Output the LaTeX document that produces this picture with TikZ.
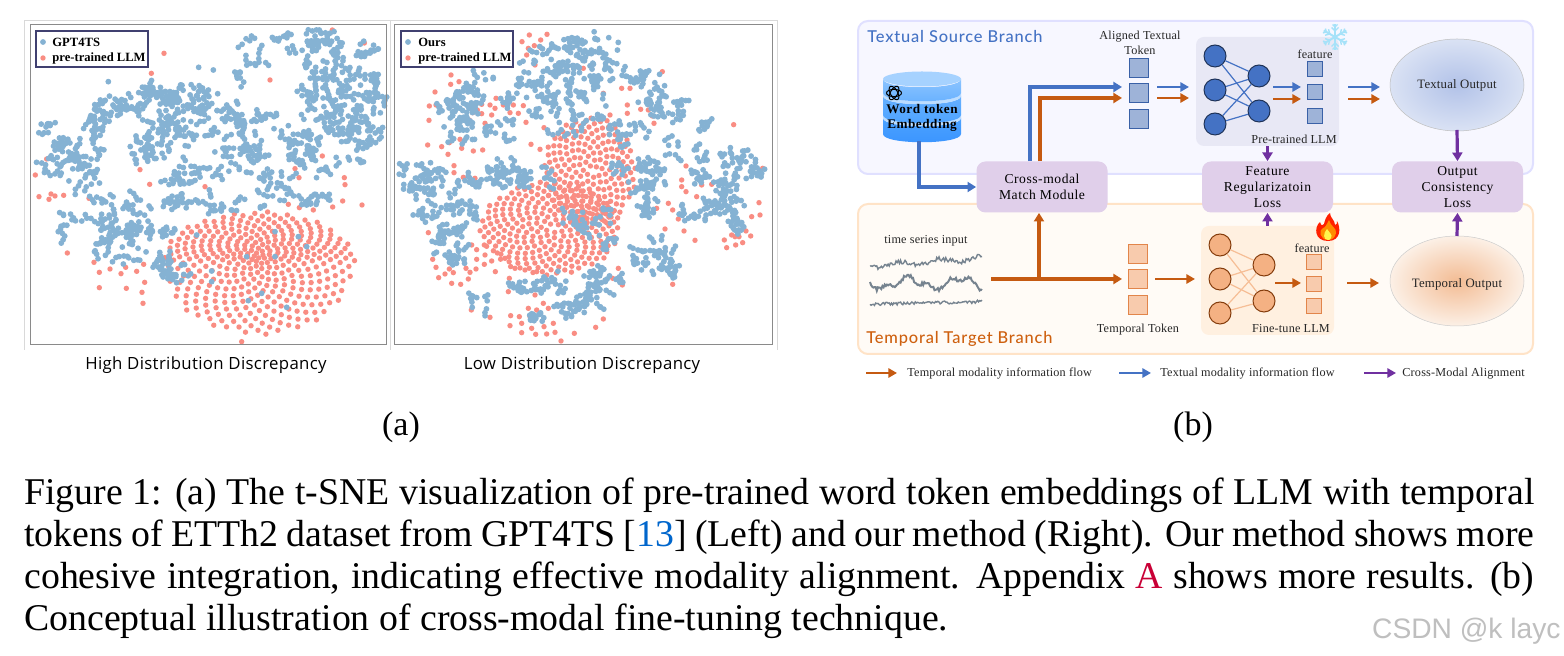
\documentclass[tikz,border=0pt]{standalone}
\usepackage{fontspec}
\usetikzlibrary{arrows.meta,calc}
\setmainfont{Liberation Serif}
\newfontfamily\dgf{Liberation Serif}[LetterSpace=4]
\newfontfamily\lbf{Liberation Serif}[LetterSpace=1.5]
\newfontfamily\ttlf{Lato Medium}[LetterSpace=5]
\newfontfamily\subf{Open Sans}[LetterSpace=2]
\newfontfamily\wmf{Liberation Sans}
\definecolor{bluedot}{HTML}{85B2D3}
\definecolor{reddot}{HTML}{F98D83}
\definecolor{blueflow}{HTML}{4472C4}
\definecolor{orangeflow}{HTML}{C55A11}
\definecolor{purpleflow}{HTML}{7030A0}
\definecolor{lossfill}{HTML}{E0CFEA}
\definecolor{frameg}{HTML}{8A8A8A}
\definecolor{tsgray}{HTML}{76838F}
\newcommand\dotb[2]{\fill[bluedot] (#1,#2) circle[radius=2.9];}
\newcommand\dotr[2]{\fill[reddot] (#1,#2) circle[radius=2.7];}
% ox oy list of cx/cy/rx/ry/n, zoom coordinates (3x)
\newcommand\chains[3]{%
 \foreach \cx/\cy/\rx/\ry/\n in {#3}{%
  \pgfmathtruncatemacro\nn{\n*3}%
  \foreach \i in {1,...,\nn}{%
   \pgfmathsetmacro\ang{rnd*360}\pgfmathsetmacro\rad{sqrt(rnd)}%
   \pgfmathsetmacro\dir{rnd*360}\pgfmathsetmacro\len{int(1+rnd*2.4)}%
   \pgfmathsetmacro\sx{#1+(\cx+1.15*\rx*\rad*cos(\ang))/3}%
   \pgfmathsetmacro\sy{#2+(\cy+1.15*\ry*\rad*sin(\ang))/3}%
   \foreach \j in {1,...,\len}{%
    \pgfmathsetmacro\qx{\sx+(\j-1)*4*cos(\dir)+rnd*1.5}%
    \pgfmathsetmacro\qy{\sy+(\j-1)*4*sin(\dir)+rnd*1.5}%
    \dotb{\qx}{\qy}%
   }%
  }%
 }}
\newcommand\redpts[3]{\foreach \ux/\uy in {#3}{\pgfmathsetmacro\qx{#1+\ux/3}\pgfmathsetmacro\qy{#2+\uy/3}\dotr{\qx}{\qy}}}
\newcommand\bluepts[3]{\foreach \ux/\uy in {#3}{\pgfmathsetmacro\qx{#1+\ux/3}\pgfmathsetmacro\qy{#2+\uy/3}\dotb{\qx}{\qy}}}
% ox oy cx cy rx ryup rydown n power
\newcommand\sunflower[9]{\foreach \k in {1,...,#8}{%
  \pgfmathsetmacro\ang{mod(\k*13.7508,36)*10}\pgfmathsetmacro\rad{pow(\k/#8,#9)}%
  \pgfmathsetmacro\sa{sin(\ang)}\pgfmathsetmacro\vy{\sa>0?#7:#6}%
  \pgfmathsetmacro\qx{#1+(#3+#5*\rad*cos(\ang))/3}%
  \pgfmathsetmacro\qy{#2+(#4+\vy*\rad*\sa)/3}%
  \dotr{\qx}{\qy}}}
\newcommand\cylbody[4]{% ytop ybot colors
  \shade[top color=#3,bottom color=#4] (883,#1) -- (883,#2) .. controls (883,#2+11) and (961,#2+11) .. (961,#2) -- (961,#1) .. controls (961,#1+11) and (883,#1+11) .. (883,#1) -- cycle;}
\tikzset{
  x=0.5pt,y=-0.5pt,
  lbl/.style={font=\lbf\fontsize{6.1}{7.4}\selectfont,inner sep=0,align=center,text=black!85,yshift=-0.5pt},
  lossbox/.style={rectangle,rounded corners=4.5pt,fill=lossfill,inner sep=0,align=center,minimum height=25.5pt,minimum width=65.5pt,font=\dgf\fontsize{6.8}{8}\selectfont},
  panel/.style={rectangle,rounded corners=5pt,line width=1pt,inner sep=0},
  flow/.style={line width=1.6pt,-{Triangle[length=4.3pt,width=5pt]}},
  thinflow/.style={line width=1.25pt,-{Triangle[length=4.3pt,width=4.6pt]}},
  bflow/.style={flow,draw=blueflow},
  oflow/.style={flow,draw=orangeflow},
  pflow/.style={flow,draw=purpleflow},
  bthin/.style={thinflow,draw=blueflow},
  othin/.style={thinflow,draw=orangeflow},
  btok/.style={rectangle,draw=blueflow!85!black,fill=blueflow!50!white!90!gray,line width=.5pt,minimum size=9.6pt,inner sep=0},
  otok/.style={rectangle,draw={rgb,255:red,226;green,133;blue,74},fill={rgb,255:red,248;green,203;blue,173},line width=.6pt,minimum size=9.6pt,inner sep=0},
  bfeat/.style={btok,minimum size=7.6pt},
  ofeat/.style={otok,minimum size=7.6pt},
  bneur/.style={circle,draw=blueflow!45!black,fill=blueflow,line width=.5pt,minimum size=11pt,inner sep=0},
  oneur/.style={circle,draw={rgb,255:red,132;green,60;blue,12},fill={rgb,255:red,244;green,177;blue,131},line width=.5pt,minimum size=11pt,inner sep=0},
  bedge/.style={draw=blueflow,line width=.6pt},
  oedge/.style={draw={rgb,255:red,246;green,190;blue,150},line width=.6pt},
  capline/.style={anchor=west,inner sep=0,font=\fontsize{18.9}{21}\selectfont},
  legendt/.style={anchor=west,inner sep=0,font=\bfseries\fontsize{6.3}{7}\selectfont},
  subt/.style={inner sep=0,font=\subf\fontsize{8.4}{10}\selectfont},
  sublab/.style={inner sep=0,font=\fontsize{17}{20}\selectfont},
}
\begin{document}
\begin{tikzpicture}
\useasboundingbox (0,0) rectangle (1564,656);
\fill[white] (0,0) rectangle (1564,656);
\pgfmathsetseed{4217}
%% --- panel (a)
\draw[black!15,line width=.4pt] (24,350) -- (24,20) -- (777,20) -- (777,350);
\draw[black!15,line width=.4pt] (390,20) -- (390,350);
% left scatter
\sunflower{20}{15}{715}{735}{290}{145}{225}{380}{0.6}
\redpts{20}{15}{937/45,1033/84,432/115,394/175,750/195,120/390,80/432,46/480,57/545,87/553,93/537,105/543,131/541,207/550,360/464,389/508,555/515,825/461,837/488,907/423,973/488,975/509,142/714,222/742,238/772,270/762,303/776,317/757,350/769,371/748,374/802,238/818,319/820,366/832,369/865,1026/570,968/558,938/576,880/585,805/568,838/578,665/980}
\chains{20}{15}{860/90/90/50/8,960/130/110/60/14,960/250/120/90/32,1000/370/80/70/14,850/390/50/40/10,700/110/40/40/3,660/190/15/30/2,280/270/70/30/8,390/270/40/50/8,520/250/100/30/12,620/320/170/50/22,180/400/70/30/8,230/320/30/40/6,80/350/20/40/2,90/450/40/30/3,370/400/40/40/8,440/350/60/60/8,660/430/80/50/10,520/480/80/40/8,760/510/50/40/6,180/480/70/50/8,880/550/50/15/4,600/565/130/20/8,130/620/25/40/3,280/590/100/60/12,300/680/80/60/12,410/640/50/20/4,460/560/30/30/3,450/750/40/40/6,470/780/40/15/3,900/470/20/20/2}
\bluepts{20}{15}{536/157,580/165,265/200,655/97,530/660,680/725,765/725,575/768,725/835,800/877,685/857,860/695,835/665,575/800,765/650}
\draw[frameg,line width=.5pt] (30,25) rectangle (386,345);
\node[draw=blue!25!black!75,fill=white,line width=.6pt,minimum width=56pt,minimum height=18pt,inner sep=0] (legL) at (92,49) {};
\dotb{43}{42}\dotr{43}{58}
\node[legendt] (legLa) at (52,42) {GPT4TS};
\node[legendt] (legLb) at (52,58) {pre-trained LLM};
\node[subt] (subL) at (206,365) {High Distribution Discrepancy};
% right scatter
\sunflower{390}{15}{600}{470}{140}{165}{165}{190}{0.5}
\sunflower{390}{15}{480}{640}{210}{140}{140}{250}{0.5}
\redpts{390}{15}{418/60,471/58,396/80,452/75,415/100,433/92,452/98,410/120,435/150,183/180,207/200,182/208,135/231,118/273,138/270,117/316,113/390,155/395,178/383,174/418,210/373,215/400,250/408,278/405,192/452,192/473,220/487,255/490,275/268,300/270,340/270,370/270,400/272,262/285,248/293,275/296,305/300,360/293,385/295,238/315,285/325,315/280,318/250,408/322,462/338,423/388,450/403,505/357,817/170,695/220,720/220,712/270,712/295,752/283,775/285,787/303,792/325,660/300,580/160,575/243,640/235,1031/329,888/453,875/495,875/515,888/530,920/545,935/510,965/508,835/565,848/585,800/580,865/612,882/648,825/642,915/676,1118/460,1107/563,1110/600,1085/605,1068/648,1082/663,1003/675,1010/698,1037/690,1058/683,1025/660,1035/665,1047/665,115/653,128/733,138/757,146/788,178/762,165/777,190/773,185/805,212/808,235/792,258/762,228/760,240/772,260/733,245/690,260/704,283/690,285/720,283/748,305/738,316/770,322/714,358/790,244/885,300/907,360/932,395/953,437/958,470/957,495/952,513/978,553/955,617/937,640/912,425/940,462/935,490/925,395/925,420/905,388/905,362/902,415/880,440/885,475/880,460/865,435/840,355/830,848/808,697/810,685/760,668/790,345/730,375/760,405/765,440/770,470/780}
\chains{390}{15}{600/90/80/40/9,490/130/70/40/7,420/180/60/50/6,560/190/60/40/7,650/160/50/30/4,770/210/50/60/9,840/280/40/40/6,230/250/40/40/9,170/270/30/30/3,280/190/40/20/2,210/340/50/40/7,330/340/50/40/4,490/270/70/40/8,600/270/70/50/6,370/250/50/20/3,520/340/50/30/3,720/350/60/50/6,850/390/20/30/2,90/490/60/50/16,360/480/60/40/12,310/450/30/20/3,210/520/50/50/4,190/600/60/50/9,90/600/20/10/2,170/690/50/50/8,200/740/20/30/3,770/490/50/60/12,770/590/20/30/3,620/620/40/40/4,650/680/20/20/2,680/460/20/20/2,780/720/60/50/9,640/780/60/30/6,610/840/50/40/7,540/880/50/20/5,410/810/40/20/6,500/800/50/30/4,440/910/30/20/3,250/850/15/15/2,290/860/10/20/1,940/340/20/20/2,920/420/20/20/2,1040/440/50/40/7,1000/540/40/50/10,920/590/50/30/6,1040/610/30/50/5,920/490/30/20/3,1090/480/20/20/2,850/770/15/20/2,540/610/40/40/3,470/490/20/30/2}
\draw[frameg,line width=.5pt] (394,25) rectangle (772,345);
\node[draw=blue!25!black!75,fill=white,line width=.6pt,minimum width=56pt,minimum height=18pt,inner sep=0] (legR) at (457,49) {};
\dotb{408}{42}\dotr{408}{58}
\node[legendt] (legRa) at (418,42) {Ours};
\node[legendt] (legRb) at (418,58) {pre-trained LLM};
\node[subt] (subR) at (582,365) {Low Distribution Discrepancy};
\node[sublab] (la) at (401,427) {(a)};
\node[sublab] (lb) at (1193,427) {(b)};
%% --- panel (b)
\node[panel,draw=blue!12!white,fill=blue!3!white,minimum width=337.5pt,minimum height=76.5pt] (textpanel) at (1195.5,97.5) {};
\node[panel,draw=orange!22!white,fill=yellow!3!orange!3!white,minimum width=337.5pt,minimum height=75pt] (temppanel) at (1195.5,279) {};
\node[anchor=west,inner sep=0,text=blueflow,font=\ttlf\fontsize{8.2}{9}\selectfont] (tbr) at (867,37) {Textual Source Branch};
\node[anchor=west,inner sep=0,text=orangeflow!85!orange,font=\ttlf\fontsize{8.2}{9}\selectfont] (obr) at (866,339) {Temporal Target Branch};
% cylinder
\definecolor{cyA}{HTML}{A6D2FF}\definecolor{cyB}{HTML}{8CC4FF}\definecolor{cyC}{HTML}{66B0FF}
\definecolor{cyD}{HTML}{4CA2FF}\definecolor{cyE}{HTML}{3A94FF}\definecolor{cyS}{HTML}{BCDDFF}
\cylbody{118}{134}{cyD}{cyE}
\cylbody{115}{118}{cyS}{cyS}
\cylbody{96}{115}{cyC}{cyD}
\cylbody{93}{96}{cyS}{cyS}
\cylbody{79}{93}{cyB}{cyC}
\fill[cyA] (922,79) ellipse[x radius=39,y radius=7.5];
\begin{scope}[shift={(894,93)}]
\foreach \rr in {0,60,120}{\draw[black,line width=.5pt,rotate=\rr] (0,0) ellipse[x radius=7.5,y radius=3.6];}
\end{scope}
\coordinate (wordb) at (919,141);
\node[inner sep=0,align=center,font=\bfseries\dgf\fontsize{6.6}{7.2}\selectfont] (word) at (922,118) {Word token\\Embedding};
% loss boxes
\node[lossbox] (cross) at (1042,187) {Cross-modal\\Match Module};
\node[lossbox] (freg) at (1267.5,187) {Feature\\Regularizatoin\\Loss};
\node[lossbox] (outc) at (1457.5,187) {Output\\Consistency\\Loss};
% aligned tokens
\node[btok] (a1) at (1139,68) {};
\node[btok] (a2) at (1139,93) {};
\node[btok] (a3) at (1139,119) {};
\node[lbl] (alab) at (1140,42) {Aligned Textual\\Token};
% textual LLM
\node[rectangle,rounded corners=4pt,fill=blue!40!gray!13!white,minimum width=71.5pt,minimum height=54.5pt,inner sep=0] (tllm) at (1267.5,91.5) {};
\foreach \n/\y in {1/56,2/90,3/124}{\node[bneur] (bl\n) at (1215,\y) {};}
\foreach \n/\y in {1/76,2/111}{\node[bneur] (br\n) at (1259,\y) {};}
\foreach \p in {1,2,3}{\foreach \q in {1,2}{\draw[bedge] (bl\p) -- (br\q);}}
\node[bfeat] (bf1) at (1315,69) {};
\node[bfeat] (bf2) at (1315,92) {};
\node[bfeat] (bf3) at (1315,116) {};
\node[lbl] (bflab) at (1315,53) {feature};
\node[lbl] (tllmlab) at (1294,138) {Pre-trained LLM};
% snowflake
\begin{scope}[shift={(1335,37)}]
\foreach \rr in {0,60,...,300}{\begin{scope}[rotate=\rr]
\draw[cyan!35!white,line width=1pt] (0,0) -- (0,-13);
\draw[cyan!35!white,line width=.7pt] (0,-6) -- (-3.5,-9.5) (0,-6) -- (3.5,-9.5) (0,-10) -- (-2.5,-12.5) (0,-10) -- (2.5,-12.5);
\end{scope}}
\end{scope}
% textual output
\definecolor{elbi}{HTML}{B2C2E8}\definecolor{elbo}{HTML}{DAE2F4}
\definecolor{eloi}{HTML}{F3BC94}\definecolor{eloo}{HTML}{FCF0E6}
\shade[inner color=elbi,outer color=elbo] (1457,85) ellipse[x radius=67,y radius=46];
\draw[black!25,line width=.25pt] (1457,85) ellipse[x radius=67,y radius=46];
\node[lbl,font=\lbf\fontsize{6.4}{7.4}\selectfont] (tout) at (1457,84) {Textual Output};
\coordinate (toutb) at (1457,130);
% temporal side
\draw[tsgray,line width=.7pt] plot[domain=870:982,samples=100] (\x,{266-(\x-870)*0.07+2.2*sin((\x-870)*9)+rand*2.2});
\draw[tsgray,line width=1pt] plot[domain=870:982,samples=100] (\x,{283+5*sin((\x-870)*7)+2.5*sin((\x-870)*17)+rand*1.8});
\draw[tsgray,line width=.7pt] plot[domain=870:982,samples=100] (\x,{304-(\x-870)*0.02+rand*1.6});
\node[lbl] (tsl) at (926,240) {time series input};
\coordinate (tsend) at (991,279);
\node[otok] (o1) at (1138,254) {};
\node[otok] (o2) at (1138,279) {};
\node[otok] (o3) at (1138,305) {};
\node[lbl] (otl) at (1138,329) {Temporal Token};
\node[rectangle,rounded corners=4pt,fill=orange!12!white,minimum width=66.5pt,minimum height=54.5pt,inner sep=0] (ollm) at (1267.5,280.5) {};
\foreach \n/\y in {1/245,2/279,3/313}{\node[oneur] (ol\n) at (1220,\y) {};}
\foreach \n/\y in {1/265,2/301}{\node[oneur] (or\n) at (1264,\y) {};}
\foreach \p in {1,2,3}{\foreach \q in {1,2}{\draw[oedge] (ol\p) -- (or\q);}}
\node[ofeat] (of1) at (1314,262) {};
\node[ofeat] (of2) at (1314,284) {};
\node[ofeat] (of3) at (1314,306) {};
\node[lbl] (oflab) at (1312,247) {feature};
\node[lbl] (ollmlab) at (1291,328) {Fine-tune LLM};
% flame
\fill[red!75!orange] (1328,241) .. controls (1314,241) and (1314,227) .. (1320,222) .. controls (1321,226) and (1323,226) .. (1324,224) .. controls (1325,220) and (1326,216) .. (1330,213) .. controls (1330,218) and (1335,220) .. (1335,225) .. controls (1337,225) and (1337,223) .. (1337,221) .. controls (1341,228) and (1341,241) .. (1328,241) -- cycle;
\fill[orange!90!yellow] (1328,240) .. controls (1320,240) and (1318,230) .. (1323,228) .. controls (1325,228) and (1327,224) .. (1329,220) .. controls (1330,226) and (1337,228) .. (1336,233) .. controls (1335,238) and (1332,240) .. (1328,240) -- cycle;
\fill[yellow!70!white] (1328,240) .. controls (1323,240) and (1323,233) .. (1327,229) .. controls (1329,232) and (1333,235) .. (1331,238) .. controls (1330,240) and (1329,240) .. (1328,240) -- cycle;
% temporal output
\shade[inner color=eloi,outer color=eloo] (1457,281) ellipse[x radius=67,y radius=45];
\draw[black!20,line width=.25pt] (1457,281) ellipse[x radius=67,y radius=45];
\node[lbl,font=\lbf\fontsize{6.4}{7.4}\selectfont] (oout) at (1457,283) {Temporal Output};
\coordinate (ooutt) at (1457,236);
% connectors
\coordinate (c1) at (1122,87);
\coordinate (c2) at (1122,98);
\draw[bflow] (wordb) |- (cross.west);
\draw[bflow] ($(cross.north)+(-12,0)$) |- (c1);
\draw[oflow] ($(cross.north)+(-2,0)$) |- (c2);
\coordinate (d1s) at (1157,87);\coordinate (d1e) at (1189,87);
\coordinate (d2s) at (1157,98);\coordinate (d2e) at (1189,98);
\draw[bthin] (d1s) -- (d1e);
\draw[othin] (d2s) -- (d2e);
\coordinate (e1s) at (1273,87);\coordinate (e1e) at (1301,87);
\coordinate (e2s) at (1273,99);\coordinate (e2e) at (1301,99);
\draw[bthin] (e1s) -- (e1e);
\draw[othin] (e2s) -- (e2e);
\coordinate (f1s) at (1348,87);\coordinate (f1e) at (1380,87);
\coordinate (f2s) at (1348,99);\coordinate (f2e) at (1380,99);
\draw[bthin] (f1s) -- (f1e);
\draw[othin] (f2s) -- (f2e);
\coordinate (g) at (1122,279);
\draw[oflow] (tsend) -- (g);
\coordinate (gb) at (1039,279);
\draw[oflow] (gb) -- (gb |- cross.south);
\coordinate (h1) at (1155,279);\coordinate (h2) at (1195,279);
\draw[othin] (h1) -- (h2);
\coordinate (i1) at (1275,283);\coordinate (i2) at (1301,283);
\draw[othin] (i1) -- (i2);
\coordinate (j1) at (1347,283);\coordinate (j2) at (1379,283);
\draw[othin] (j1) -- (j2);
\draw[pflow] (freg.north |- tllm.south) -- (freg.north);
\draw[pflow] (toutb) -- (outc.north);
\draw[pflow] (freg.south |- ollm.north) -- (freg.south);
\draw[pflow] (ooutt) -- (outc.south);
% legend
\coordinate (la1) at (866,373);\coordinate (la2) at (897,373);
\coordinate (lb1) at (1119,373);\coordinate (lb2) at (1151,373);
\coordinate (lc1) at (1364,373);\coordinate (lc2) at (1396,373);
\draw[othin] (la1) -- (la2);
\draw[bthin] (lb1) -- (lb2);
\draw[thinflow,draw=purpleflow] (lc1) -- (lc2);
\node[lbl,anchor=west] (lta) at (907,373) {Temporal modality information flow};
\node[lbl,anchor=west] (ltb) at (1160,373) {Textual modality information flow};
\node[lbl,anchor=west] (ltc) at (1402,373) {Cross-Modal Alignment};
%% --- caption
\node[capline] (cap1) at (24,495) {\makebox[755pt][s]{Figure 1: (a) The t-SNE visualization of pre-trained word token embeddings of LLM with temporal}};
\node[capline] (cap2) at (24,537) {\makebox[755pt][s]{tokens of ETTh2 dataset from GPT4TS [{\color{blue!50!cyan!80!black}13}] (Left) and our method (Right). Our method shows more}};
\node[capline] (cap3) at (24,579) {\makebox[755pt][s]{cohesive integration, indicating effective modality alignment. Appendix {\color{purple!85!red}A} shows more results. (b)}};
\node[capline] (cap4) at (24,621) {Conceptual illustration of cross-modal fine-tuning technique.};
\node[anchor=east,inner sep=0,text=black!25,font=\wmf\fontsize{14.1}{15}\selectfont] (wm) at (1561,631) {CSDN @k layc};
\end{tikzpicture}
\end{document}
